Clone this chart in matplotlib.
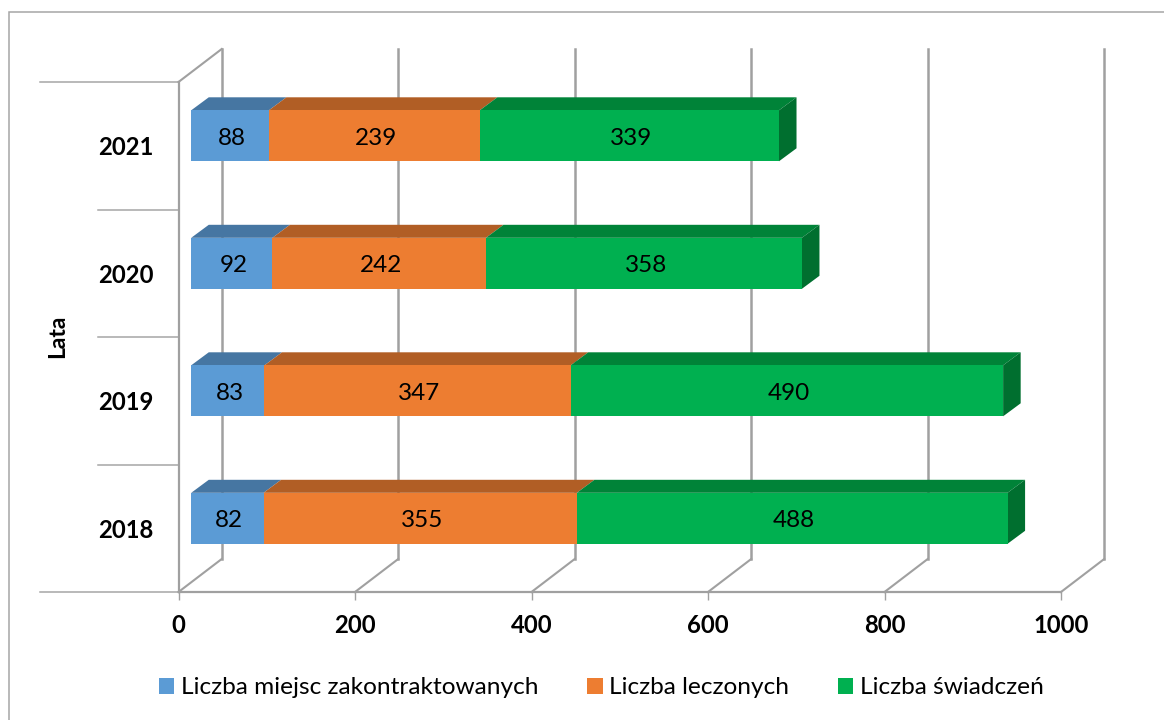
import matplotlib
matplotlib.use("Agg")
import matplotlib.pyplot as plt
from matplotlib.patches import Polygon, Rectangle

years = ["2018", "2019", "2020", "2021"]
miejsca = [82, 83, 92, 88]
leczeni = [355, 347, 242, 239]
swiadczenia = [488, 490, 358, 339]

series_names = ["Liczba miejsc zakontraktowanych", "Liczba leczonych", "Liczba świadczeń"]
series_values = [miejsca, leczeni, swiadczenia]
front_colors = ["#5B9BD5", "#ED7D31", "#00B050"]
top_colors = ["#4676A2", "#B15E25", "#008338"]
side_colors = ["#3E6A92", "#9E5420", "#006F2F"]
x_ticks = [0, 200, 400, 600, 800, 1000]

GRID = "#A0A0A0"
W, H = 1164, 720
plt.rcParams["font.family"] = ["Lato", "DejaVu Sans"]

fig = plt.figure(figsize=(W / 100, H / 100), dpi=100)
fig.patch.set_facecolor("white")
fig.add_artist(Rectangle((9 / W, -0.01), 1.2, 1 - 12 / H + 0.01, transform=fig.transFigure,
                         fill=False, edgecolor="#A6A6A6", lw=1.1))

# plot box: x 0..1000 spans 178.5..1061 px, four categories span 592..82 px
ax = fig.add_axes([178.5 / W, 1 - 592 / H, 882.5 / W, 510 / H])
ax.set_xlim(0, 1000)
ax.set_ylim(-0.5, 3.5)
ax.patch.set_visible(False)
for name in ("top", "right"):
    ax.spines[name].set_visible(False)
for name in ("left", "bottom"):
    ax.spines[name].set_color(GRID)
    ax.spines[name].set_linewidth(1.6)

# oblique depth, expressed in axis units
wall_dx, wall_dy = 49.0, 0.259
bar_x0, bar_dy0 = 14.4, 0.078
bar_dx, bar_dy = 19.9, 0.102
bar_h = 0.40

# back wall gridlines and the floor diagonals that lead to them
for t in x_ticks:
    ax.plot([t, t + wall_dx], [-0.5, -0.5 + wall_dy], color=GRID, lw=1.5, clip_on=False, zorder=1)
    ax.plot([t + wall_dx, t + wall_dx], [-0.5 + wall_dy, 3.5 + wall_dy], color=GRID, lw=1.8,
            clip_on=False, zorder=1)
ax.plot([0, wall_dx], [3.5, 3.5 + wall_dy], color=GRID, lw=1.5, clip_on=False, zorder=1)

# category separators reaching out to the left
for i in range(5):
    reach = 157.5 if i in (0, 4) else 91
    ax.plot([-reach, 0], [i - 0.5, i - 0.5], color="#A6A6A6", lw=1.1, clip_on=False, zorder=1)

# stacked bars with a top and a right face
for i, year in enumerate(years):
    left = bar_x0
    cy = i + bar_dy0
    for s, vals in enumerate(series_values):
        v = vals[i]
        ax.barh(cy, v, left=left, height=bar_h, color=front_colors[s], zorder=4)
        y_top = cy + bar_h / 2
        ax.add_patch(Polygon([(left, y_top), (left + v, y_top),
                              (left + v + bar_dx, y_top + bar_dy), (left + bar_dx, y_top + bar_dy)],
                             facecolor=top_colors[s], edgecolor="none", zorder=3))
        ax.text(left + v / 2 + 2, cy - 0.02, str(v), ha="center", va="center", fontsize=17.5,
                color="black", zorder=5)
        left += v
    ax.add_patch(Polygon([(left, cy - bar_h / 2), (left + bar_dx, cy - bar_h / 2 + bar_dy),
                          (left + bar_dx, cy + bar_h / 2 + bar_dy), (left, cy + bar_h / 2)],
                         facecolor=side_colors[2], edgecolor="none", zorder=3))

ax.set_xticks(x_ticks)
ax.set_xticklabels([str(t) for t in x_ticks], fontweight="bold", fontsize=17.2)
ax.tick_params(axis="x", length=6, width=1, color=GRID, pad=10)
ax.set_yticks(range(4))
ax.set_yticklabels(years, fontweight="bold", fontsize=17.2)
ax.tick_params(axis="y", length=0, pad=18)
ax.set_ylabel("Lata", fontweight="bold", fontsize=16.5, labelpad=0)
ax.yaxis.set_label_coords((68 - 178.5) / 882.5, (592 - 336) / 510)

handles = [Rectangle((0, 0), 1, 1, facecolor=c, edgecolor="none") for c in front_colors]
fig.legend(handles, series_names, ncol=3, loc="center left", bbox_to_anchor=(159 / W, 1 - 688 / H),
           frameon=False, fontsize=17.6, handlelength=0.62, handleheight=0.62,
           handletextpad=0.28, columnspacing=2.0, borderpad=0, borderaxespad=0)

fig.savefig("out.png", dpi=100)
